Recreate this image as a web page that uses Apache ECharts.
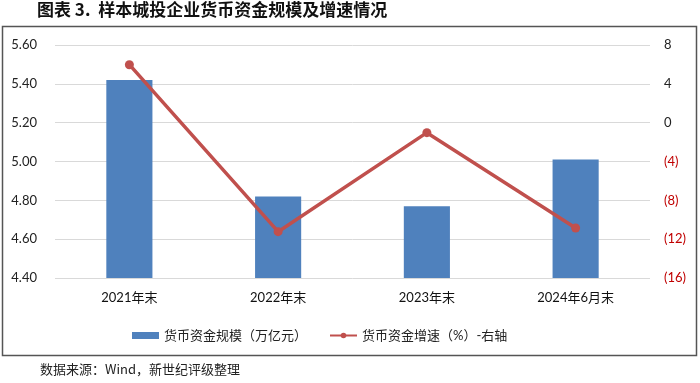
<!DOCTYPE html>
<html>
<head>
<meta charset="utf-8">
<script src="https://cdn.jsdelivr.net/npm/echarts@6/dist/echarts.min.js"></script>
<style>html,body{margin:0;padding:0;background:#fff}#c{width:700px;height:383px}</style>
</head>
<body>
<div id="c"></div>
<script>
const categories = ['2021年末', '2022年末', '2023年末', '2024年6月末'];
const scaleValues = [5.42, 4.82, 4.77, 5.01];
const growthValues = [5.97, -11.23, -1.03, -10.85];
const leftTicks = { min: 4.4, max: 5.6, interval: 0.2 };
const rightTicks = { min: -16, max: 8, interval: 4 };
const seriesNames = ['货币资金规模（万亿元）', '货币资金增速（%）-右轴'];

const FONT = "Lato, 'Noto Sans CJK SC', sans-serif";
const chart = echarts.init(document.getElementById('c'), null, { renderer: 'canvas' });
chart.setOption({
  animation: false,
  backgroundColor: '#fff',
  textStyle: { fontFamily: FONT },
  graphic: [
    { type: 'text', left: 37, top: 1, style: { text: '图表 3.  样本城投企业货币资金规模及增速情况', font: "bold 17px 'Noto Sans CJK SC', sans-serif", fill: '#111' } },
    { type: 'rect', shape: { x: 2.5, y: 26.5, width: 694, height: 329 }, style: { fill: 'none', stroke: '#555', lineWidth: 1.5 }, z: -1 },
    { type: 'text', left: 40, top: 363, style: { text: '数据来源：Wind，新世纪评级整理', font: "13px 'Noto Sans CJK SC', sans-serif", fill: '#222' } }
  ],
  grid: { left: 55, right: 50, top: 45, bottom: 105, containLabel: false },
  legend: {
    left: 127, top: 324,
    itemWidth: 27, itemHeight: 7, itemGap: 22,
    textStyle: { fontSize: 13, color: '#222', fontFamily: FONT },
    data: [
      { name: seriesNames[0], icon: 'rect' },
      { name: seriesNames[1] }
    ]
  },
  xAxis: {
    type: 'category', data: categories,
    axisLine: { show: false }, axisTick: { show: false },
    axisLabel: { fontSize: 13, color: '#111', margin: 13 }
  },
  yAxis: [
    {
      type: 'value', min: leftTicks.min, max: leftTicks.max, interval: leftTicks.interval,
      axisLine: { show: false }, axisTick: { show: false },
      splitLine: { lineStyle: { color: '#d9d9d9', width: 1 } },
      axisLabel: { fontSize: 13, color: '#222', margin: 18, formatter: v => v.toFixed(2) }
    },
    {
      type: 'value', min: rightTicks.min, max: rightTicks.max, interval: rightTicks.interval,
      axisLine: { show: false }, axisTick: { show: false }, splitLine: { show: false },
      axisLabel: {
        fontSize: 13, margin: 14,
        color: v => (v < 0 ? '#c00000' : '#222'),
        formatter: v => (v < 0 ? '(' + Math.abs(v) + ')' : String(v))
      }
    }
  ],
  series: [
    {
      name: seriesNames[0], type: 'bar', data: scaleValues, barWidth: '31%',
      itemStyle: { color: '#4f81bd' }
    },
    {
      name: seriesNames[1], type: 'line', yAxisIndex: 1, data: growthValues,
      symbol: 'circle', symbolSize: 9,
      lineStyle: { color: '#c0504d', width: 3.5 },
      itemStyle: { color: '#c0504d' }
    }
  ]
});
</script>
</body>
</html>
